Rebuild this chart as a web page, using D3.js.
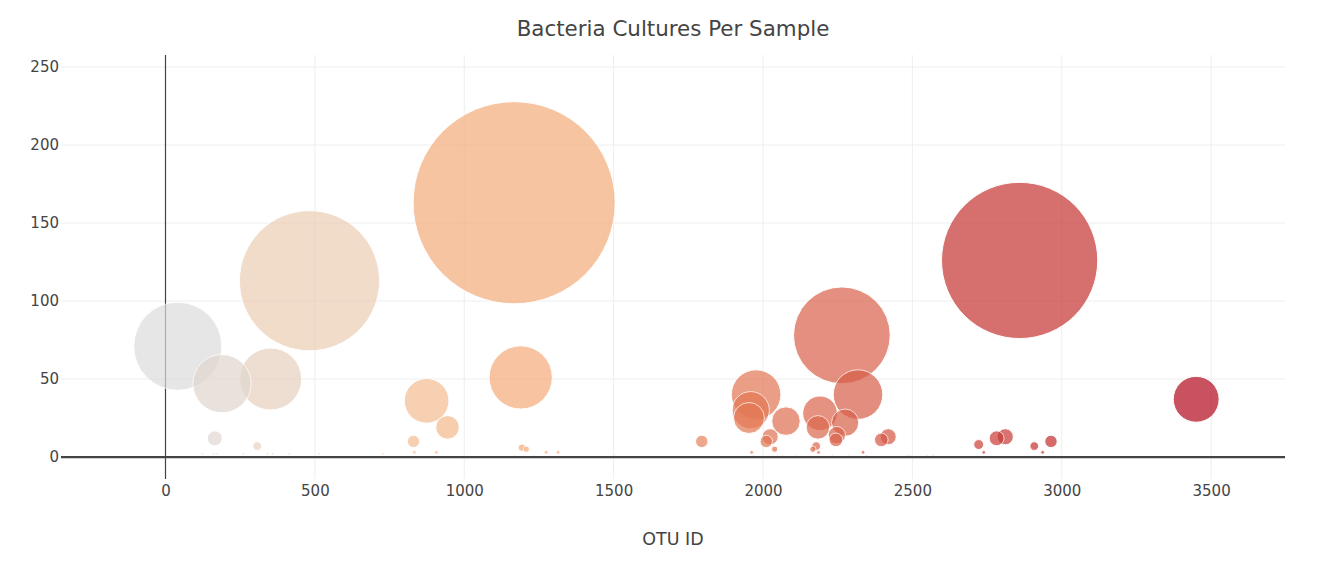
<!DOCTYPE html>
<html>
<head>
<meta charset="utf-8">
<script src="https://cdn.jsdelivr.net/npm/d3@7"></script>
<style>
  html, body { margin: 0; padding: 0; background: #fff; }
  svg { display: block; font-family: verdana, "DejaVu Sans", sans-serif; }
</style>
</head>
<body>
<svg id="chart" width="1327" height="562"></svg>
<script>
// ---- data, ordered by descending sample value ----
const otuIds = [
  1167, 2859, 482, 2264, 41, 1189, 352, 189, 2318, 1977,
  3450, 874, 1959, 2191, 1953, 2077, 2275, 944, 2184, 2247,
  2024, 2811, 2419, 2782, 165, 2244, 2396, 2011, 830, 2964,
  1795, 2722, 307, 2178, 2908, 1193, 2167, 1208, 2039, 1274,
  2739, 1314, 1962, 2186, 2335, 2936, 907, 833,
  123, 160, 172, 260, 341, 358, 414, 514, 727,
  1169, 1233, 1498, 1504, 1967, 2065, 2110, 2232, 2288, 2347, 2483, 2491, 2548, 2570
];
const sampleValues = [
  163, 126, 113, 78, 71, 51, 50, 47, 40, 40,
  37, 36, 30, 28, 25, 23, 22, 19, 19, 14,
  13, 13, 13, 12, 12, 11, 11, 10, 10, 10,
  10, 8, 7, 7, 7, 6, 5, 5, 5, 3,
  3, 3, 3, 3, 3, 3, 3, 3,
  2, 2, 2, 2, 2, 2, 2, 2, 2,
  1, 1, 1, 1, 1, 1, 1, 1, 1, 1, 1, 1, 1, 1
];
const xTicks = [0, 500, 1000, 1500, 2000, 2500, 3000, 3500];
const yTicks = [0, 50, 100, 150, 200, 250];
const colorStops = [0, 0.2, 0.4, 1];
const colorScaleColors = ["rgb(220,220,220)", "rgb(245,195,157)", "rgb(245,160,105)", "rgb(178,10,28)"];
const chartTitle = "Bacteria Cultures Per Sample";
const xTitle = "OTU ID";

// ---- layout ----
const W = 1327, H = 562;
const plot = { left: 61, right: 1285, top: 55, bottom: 479 };
const textColor = "#444";
const fontFamily = 'verdana, "DejaVu Sans", sans-serif';

const svg = d3.select("#chart");

const x = d3.scaleLinear().domain([-349.8, 3747.3]).range([plot.left, plot.right]);
const y = d3.scaleLinear().domain([-14.1, 257.7]).range([plot.bottom, plot.top]);
const sizeScale = v => v * 1.24; // marker diameter in px

const cMin = d3.min(otuIds), cMax = d3.max(otuIds);
const color = d3.scaleLinear()
  .domain(colorStops.map(t => cMin + t * (cMax - cMin)))
  .range(colorScaleColors)
  .interpolate(d3.interpolateRgb);

// grid lines
const grid = svg.append("g");
grid.selectAll("line.gx").data(xTicks.filter(t => t !== 0)).join("line")
  .attr("x1", d => x(d)).attr("x2", d => x(d))
  .attr("y1", plot.top).attr("y2", plot.bottom)
  .attr("stroke", "#eee").attr("stroke-width", 1);
grid.selectAll("line.gy").data(yTicks.filter(t => t !== 0)).join("line")
  .attr("x1", plot.left).attr("x2", plot.right)
  .attr("y1", d => y(d)).attr("y2", d => y(d))
  .attr("stroke", "#eee").attr("stroke-width", 1);

// vertical zero line
svg.append("line")
  .attr("x1", x(0)).attr("x2", x(0))
  .attr("y1", plot.top).attr("y2", plot.bottom)
  .attr("stroke", textColor).attr("stroke-width", 1.2);

// bubbles
svg.append("clipPath").attr("id", "clip").append("rect")
  .attr("x", plot.left).attr("y", plot.top)
  .attr("width", plot.right - plot.left).attr("height", plot.bottom - plot.top);

const data = otuIds.map((id, i) => ({ id, v: sampleValues[i] }));
svg.append("g").attr("clip-path", "url(#clip)")
  .selectAll("circle").data(data).join("circle")
  .attr("cx", d => x(d.id))
  .attr("cy", d => y(d.v))
  .attr("r", d => sizeScale(d.v) / 2)
  .attr("fill", d => color(d.id))
  .attr("stroke", "#fff")
  .attr("stroke-width", 1)
  .attr("opacity", 0.7);

// horizontal zero line
svg.append("line")
  .attr("x1", plot.left).attr("x2", plot.right)
  .attr("y1", y(0)).attr("y2", y(0))
  .attr("stroke", textColor).attr("stroke-width", 2.25);

// axes
const xAxis = svg.append("g")
  .attr("transform", `translate(0,${plot.bottom})`)
  .call(d3.axisBottom(x).tickValues(xTicks).tickSize(0).tickPadding(6).tickFormat(d3.format("d")));
const yAxis = svg.append("g")
  .attr("transform", `translate(${plot.left},0)`)
  .call(d3.axisLeft(y).tickValues(yTicks).tickSize(0).tickPadding(2).tickFormat(d3.format("d")));
[xAxis, yAxis].forEach(a => {
  a.select(".domain").remove();
  a.selectAll("text").attr("fill", textColor).style("font-size", "15px")
    .style("font-family", fontFamily);
});

// titles
svg.append("text")
  .attr("x", (plot.left + plot.right) / 2).attr("y", 36)
  .attr("text-anchor", "middle")
  .attr("fill", textColor).style("font-size", "21.4px")
  .style("font-family", fontFamily)
  .text(chartTitle);

svg.append("text")
  .attr("x", (plot.left + plot.right) / 2).attr("y", 545)
  .attr("text-anchor", "middle")
  .attr("fill", textColor).style("font-size", "17.5px")
  .style("font-family", fontFamily)
  .text(xTitle);
</script>
</body>
</html>
